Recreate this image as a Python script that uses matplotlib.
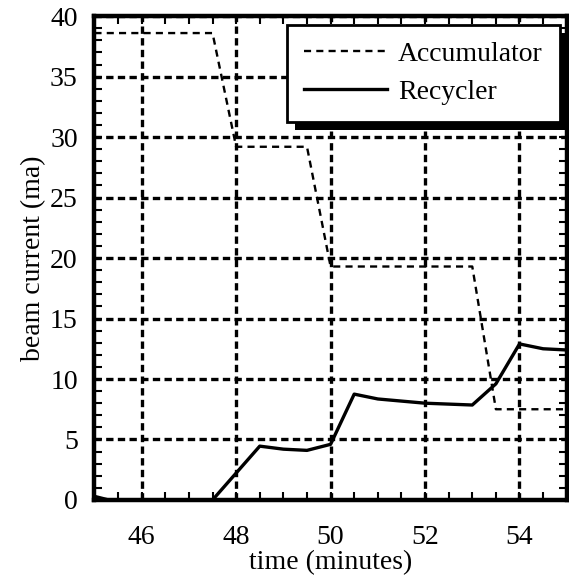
import matplotlib
matplotlib.use("Agg")
import matplotlib.pyplot as plt
import matplotlib.patheffects as pe
from matplotlib.ticker import MultipleLocator

plt.rcParams["font.family"] = ["Liberation Serif", "DejaVu Serif"]

# data
acc_t = [45.0, 47.5, 48.0, 49.5, 50.0, 53.0, 53.5, 55.0]
acc_i = [38.6, 38.6, 29.2, 29.2, 19.3, 19.3, 7.5, 7.5]

rec_t = [45.0, 45.3, 47.5, 48.5, 49.0, 49.5, 50.0, 50.5, 51.0, 52.0, 53.0, 53.5, 54.0, 54.5, 55.0]
rec_i = [0.3, 0.0, 0.0, 4.45, 4.2, 4.1, 4.6, 8.75, 8.35, 8.0, 7.85, 9.6, 12.9, 12.5, 12.4]

x_ticks = [46, 48, 50, 52, 54]
y_ticks = [0, 5, 10, 15, 20, 25, 30, 35, 40]

fig = plt.figure(figsize=(5.69, 5.76), dpi=100)
ax = fig.add_axes([0.166, 0.132, 0.83, 0.840])

ax.plot(acc_t, acc_i, color="black", linestyle=(0, (3, 2.2)), linewidth=1.7,
        label="Accumulator", zorder=3)
ax.plot(rec_t, rec_i, color="black", linestyle="-", linewidth=2.4,
        label="Recycler", zorder=3)

ax.set_xlim(45, 55)
ax.set_ylim(0, 40)
ax.set_xticks(x_ticks)
ax.set_yticks(y_ticks)
ax.xaxis.set_minor_locator(MultipleLocator(0.5))
ax.yaxis.set_minor_locator(MultipleLocator(1))
ax.tick_params(which="both", direction="in", top=True, right=True,
               width=1.5, labelsize=20)
ax.tick_params(which="major", length=6)
ax.tick_params(axis="x", which="major", pad=18)
ax.tick_params(axis="y", which="major", pad=12)
ax.tick_params(which="minor", length=6)

ax.grid(True, which="major", color="black", linestyle=(0, (2.2, 1.3)),
        linewidth=2.4)
for s in ax.spines.values():
    s.set_linewidth(3.2)

ax.set_xlabel("time (minutes)", fontsize=20, labelpad=0)
ax.set_ylabel("beam current (ma)", fontsize=20, labelpad=3)

leg = ax.legend(loc="upper right", bbox_to_anchor=(0.985, 0.982), fontsize=20,
                fancybox=False, framealpha=1, edgecolor="black",
                handlelength=3.0, handletextpad=0.4, borderpad=0.6,
                labelspacing=0.45, borderaxespad=0)
frame = leg.get_frame()
frame.set_linewidth(2)
frame.set_path_effects([pe.SimplePatchShadow(offset=(6, -6), shadow_rgbFace="black", alpha=1),
                        pe.Normal()])
leg.set_zorder(5)

fig.savefig("out.png", dpi=100)
